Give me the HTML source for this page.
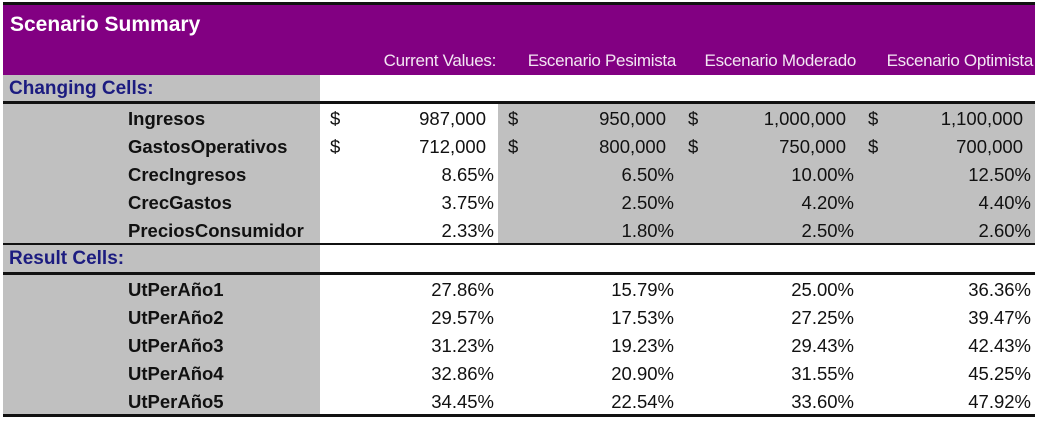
<!DOCTYPE html>
<html><head><meta charset="utf-8"><style>
body{margin:0;width:1038px;height:422px;background:#fff;position:relative;overflow:hidden;font-family:"Liberation Sans",sans-serif}
div{position:absolute;box-sizing:border-box}
.t{white-space:nowrap;font-size:18.5px;color:#111}
.r{text-align:right}
.b{font-weight:bold}
</style></head><body>
<div style="left:3px;top:2px;width:1032px;height:3px;background:#111"></div>
<div style="left:3px;top:5px;width:1032px;height:70px;background:#820082"></div>
<div class="t b" style="left:10px;top:13px;font-size:21px;color:#fff">Scenario Summary</div>
<div style="left:3px;top:75px;width:317px;height:27px;background:#c0c0c0"></div>
<div class="t b" style="left:9px;top:78px;font-size:19px;color:#1c1c80">Changing Cells:</div>
<div style="left:3px;top:101px;width:1032px;height:3px;background:#111"></div>
<div style="left:3px;top:245px;width:317px;height:27px;background:#c0c0c0"></div>
<div class="t b" style="left:9px;top:248px;font-size:19px;color:#1c1c80">Result Cells:</div>
<div style="left:3px;top:243px;width:1032px;height:2px;background:#111"></div>
<div style="left:3px;top:272px;width:1032px;height:3px;background:#111"></div>
<div style="left:3px;top:414px;width:1032px;height:3px;background:#111"></div>
<div id="body" style="left:0;top:0;width:1038px;height:422px"></div>
<script>
const headers=["Current Values:","Escenario Pesimista","Escenario Moderado","Escenario Optimista"];
const changeLabels=["Ingresos","GastosOperativos","CrecIngresos","CrecGastos","PreciosConsumidor"];
const changeVals=[["987,000","950,000","1,000,000","1,100,000"],["712,000","800,000","750,000","700,000"],["8.65%","6.50%","10.00%","12.50%"],["3.75%","2.50%","4.20%","4.40%"],["2.33%","1.80%","2.50%","2.60%"]];
const resultLabels=["UtPerAño1","UtPerAño2","UtPerAño3","UtPerAño4","UtPerAño5"];
const resultVals=[["27.86%","15.79%","25.00%","36.36%"],["29.57%","17.53%","27.25%","39.47%"],["31.23%","19.23%","29.43%","42.43%"],["32.86%","20.90%","31.55%","45.25%"],["34.45%","22.54%","33.60%","47.92%"]];
const colL=[320,498,678,858],colR=[498,678,858,1035];
const B=document.getElementById('body');
function mk(css,txt,cls){const d=document.createElement('div');d.style.cssText=css;if(txt!=null)d.textContent=txt;if(cls)d.className=cls;B.appendChild(d);return d;}
headers.forEach((h,i)=>{const d=mk(`left:${colL[i]-40}px;width:${colR[i]-colL[i]+38}px;top:51px;color:#f3e6f3;font-size:17px;letter-spacing:-0.3px`,h,'t r');

});
const rh=28;
mk(`left:3px;top:104px;width:317px;height:139px;background:#c0c0c0`);
mk(`left:498px;top:104px;width:537px;height:139px;background:#c0c0c0`);
mk(`left:3px;top:275px;width:317px;height:139px;background:#c0c0c0`);
function rows(labels,vals,top){labels.forEach((l,r)=>{const y=top+r*rh+4;
const a=mk(`left:128px;top:${y}px`,l,'t b');


vals[r].forEach((v,i)=>{const isD=v.indexOf('%')<0;
if(isD){const s=mk(`left:${colL[i]+10}px;top:${y}px`,'$','t');

}
const c=mk(`left:${colL[i]}px;width:${colR[i]-colL[i]-(isD?12:4)}px;top:${y}px`,v,'t r');

});});}
rows(changeLabels,changeVals,104);
rows(resultLabels,resultVals,275);
</script>
</body></html>
